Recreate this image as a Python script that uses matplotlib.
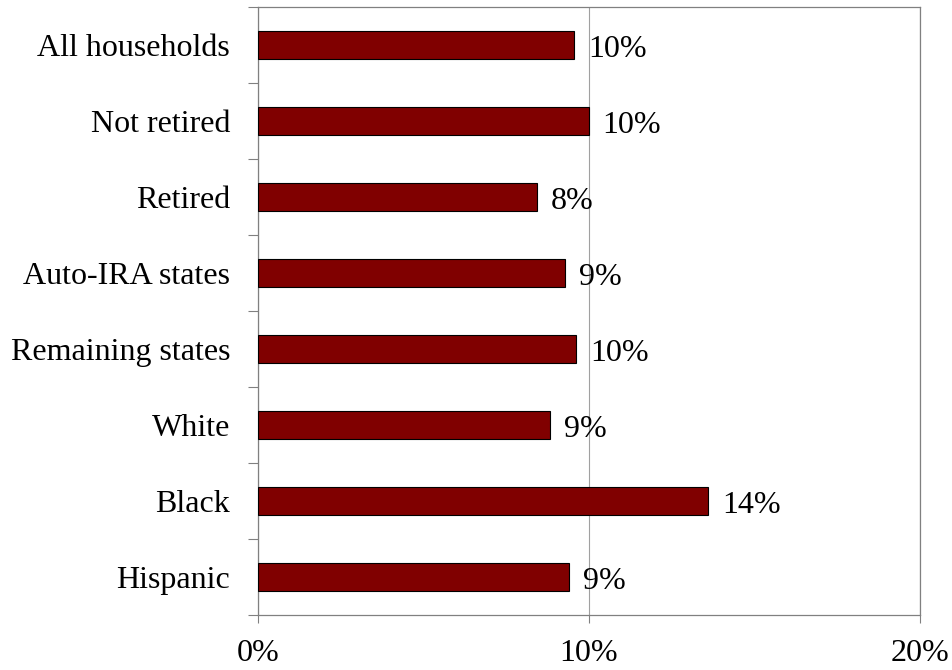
import matplotlib
matplotlib.use("Agg")
import matplotlib.pyplot as plt
import numpy as np
from matplotlib.ticker import FixedLocator, PercentFormatter

plt.rcParams['font.family'] = ['Liberation Serif', 'DejaVu Serif']

# data (percent)
categories = ['All households', 'Not retired', 'Retired', 'Auto-IRA states',
              'Remaining states', 'White', 'Black', 'Hispanic']
values = [9.56, 10.0, 8.43, 9.27, 9.61, 8.82, 13.6, 9.40]
x_ticks = [0, 10, 20]

FS = 23

fig = plt.figure(figsize=(9.52, 6.70), dpi=100)
ax = fig.add_axes([0.271, 0.082, 0.695, 0.9075])

y = np.arange(len(categories))
ax.barh(y, values, height=0.36, color='#800000', edgecolor='black', linewidth=0.8, zorder=3)

# data labels just past bar end
for yi, v in zip(y, values):
    ax.annotate(f"{v:.0f}%", xy=(v, yi), xytext=(10, -3), textcoords='offset points',
                ha='left', va='center', fontsize=FS, zorder=4)

ax.set_xlim(0, 20)
ax.set_ylim(len(categories) - 0.5, -0.5)
ax.set_xticks(x_ticks)
ax.xaxis.set_major_formatter(PercentFormatter(decimals=0))
ax.tick_params(axis='x', length=6, width=0.8, color='#808080', labelsize=FS, pad=11, direction='out')

ax.set_yticks(y)
ax.set_yticklabels(categories)
ax.yaxis.set_minor_locator(FixedLocator(np.arange(-0.5, len(categories), 1.0)))
ax.tick_params(axis='y', which='major', length=0, labelsize=FS, pad=20)
ax.tick_params(axis='y', which='minor', length=7, width=0.8, color='#808080', direction='out')

ax.grid(axis='x', color='#a0a0a0', linewidth=0.8, zorder=0)
for s in ax.spines.values():
    s.set_color('#808080')
    s.set_linewidth(0.9)

fig.savefig('out.png', dpi=100, facecolor='white')
